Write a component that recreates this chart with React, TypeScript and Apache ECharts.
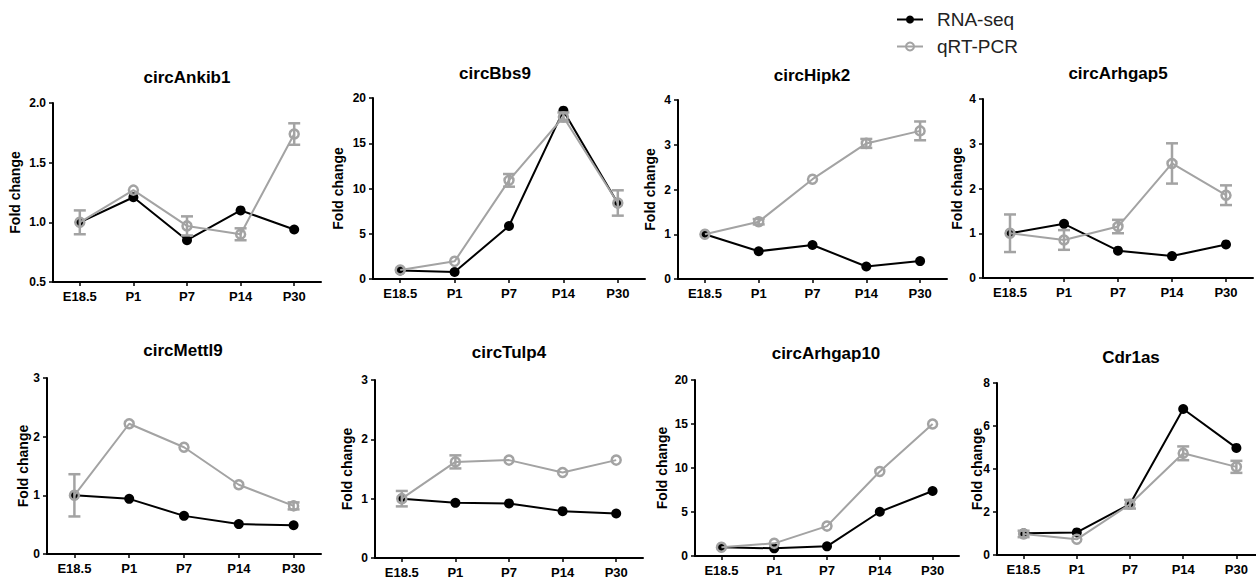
import React, { useEffect, useRef } from "react";
import * as echarts from "echarts";

const categories = ["E18.5", "P1", "P7", "P14", "P30"];
const panelTitles = ["circAnkib1", "circBbs9", "circHipk2", "circArhgap5", "circMettl9", "circTulp4", "circArhgap10", "Cdr1as"];
const seriesNames = ["RNA-seq", "qRT-PCR"];
const yAxisName = "Fold change";

const ankib1Rna = [1.0, 1.21, 0.85, 1.1, 0.94];
const ankib1Qpcr = [1.0, 1.27, 0.97, 0.9, 1.74];
const ankib1Err = [0.1, 0, 0.08, 0.05, 0.09];

const bbs9Rna = [0.95, 0.77, 5.86, 18.6, 8.36];
const bbs9Qpcr = [1.0, 1.95, 10.9, 17.9, 8.4];
const bbs9Err = [0, 0, 0.7, 0.5, 1.4];

const hipk2Rna = [1.0, 0.62, 0.76, 0.28, 0.4];
const hipk2Qpcr = [1.0, 1.28, 2.23, 3.03, 3.31];
const hipk2Err = [0, 0.06, 0, 0.1, 0.21];

const arhgap5Rna = [1.0, 1.21, 0.61, 0.49, 0.75];
const arhgap5Qpcr = [1.0, 0.85, 1.15, 2.56, 1.85];
const arhgap5Err = [0.42, 0.22, 0.15, 0.45, 0.22];

const mettl9Rna = [1.0, 0.94, 0.65, 0.51, 0.49];
const mettl9Qpcr = [1.0, 2.22, 1.82, 1.18, 0.82];
const mettl9Err = [0.36, 0, 0, 0, 0.06];

const tulp4Rna = [1.0, 0.93, 0.92, 0.79, 0.75];
const tulp4Qpcr = [1.0, 1.62, 1.65, 1.44, 1.65];
const tulp4Err = [0.13, 0.11, 0, 0, 0];

const arhgap10Rna = [0.99, 0.87, 1.1, 5.03, 7.39];
const arhgap10Qpcr = [1.0, 1.44, 3.4, 9.6, 15.0];
const arhgap10Err = [0, 0, 0, 0, 0];

const cdr1asRna = [1.01, 1.05, 2.37, 6.79, 4.98];
const cdr1asQpcr = [0.98, 0.73, 2.36, 4.73, 4.1];
const cdr1asErr = [0.15, 0, 0.2, 0.32, 0.28];

const yMins = [0.5, 0, 0, 0, 0, 0, 0, 0];
const yMaxs = [2, 20, 4, 4, 3, 3, 20, 8];
const yIntervals = [0.5, 5, 1, 1, 1, 1, 5, 2];
const yDecimals = [1, 0, 0, 0, 0, 0, 0, 0];

const rnaData = [ankib1Rna, bbs9Rna, hipk2Rna, arhgap5Rna, mettl9Rna, tulp4Rna, arhgap10Rna, cdr1asRna];
const qpcrData = [ankib1Qpcr, bbs9Qpcr, hipk2Qpcr, arhgap5Qpcr, mettl9Qpcr, tulp4Qpcr, arhgap10Qpcr, cdr1asQpcr];
const errData = [ankib1Err, bbs9Err, hipk2Err, arhgap5Err, mettl9Err, tulp4Err, arhgap10Err, cdr1asErr];

const layouts = [
  { left: 53, top: 103, width: 268, height: 179, titleX: 187, titleY: 77, nameX: 15 },
  { left: 373, top: 98, width: 272, height: 181, titleX: 495, titleY: 73, nameX: 338 },
  { left: 678, top: 100, width: 269, height: 179, titleX: 812, titleY: 75, nameX: 650 },
  { left: 983, top: 99, width: 270, height: 179, titleX: 1118, titleY: 73, nameX: 957 },
  { left: 47, top: 378, width: 274, height: 176, titleX: 183, titleY: 350, nameX: 23 },
  { left: 375, top: 380, width: 268, height: 178, titleX: 509, titleY: 352, nameX: 347 },
  { left: 695, top: 380, width: 264, height: 176, titleX: 826, titleY: 353, nameX: 662 },
  { left: 997, top: 383, width: 266, height: 172, titleX: 1131, titleY: 357, nameX: 977 },
];

const FONT = '"Liberation Sans", Arial, Helvetica, sans-serif';
const GRAY = "#a3a3a3";

export default function App() {
  const ref = useRef<HTMLDivElement>(null);

  useEffect(() => {
    if (!ref.current) return;
    const chart = echarts.init(ref.current, undefined, { renderer: "svg" });

    const grids: any[] = [];
    const xAxes: any[] = [];
    const yAxes: any[] = [];
    const series: any[] = [];
    const graphics: any[] = [];

    layouts.forEach((l, i) => {
      grids.push({ left: l.left, top: l.top, width: l.width, height: l.height, containLabel: false, outerBoundsMode: "none" });
      xAxes.push({
        type: "category",
        gridIndex: i,
        data: categories,
        boundaryGap: true,
        axisLine: { show: true, lineStyle: { color: "#000", width: 2 } },
        axisTick: { show: true, alignWithLabel: true, length: 4, lineStyle: { color: "#000", width: 1.5 } },
        axisLabel: { color: "#000", fontFamily: FONT, fontWeight: "bold", fontSize: 13, margin: 8, interval: 0 },
        splitLine: { show: false },
      });
      yAxes.push({
        type: "value",
        gridIndex: i,
        min: yMins[i],
        max: yMaxs[i],
        interval: yIntervals[i],
        axisLine: { show: true, lineStyle: { color: "#000", width: 2 } },
        axisTick: { show: true, length: 4, lineStyle: { color: "#000", width: 1.5 } },
        axisLabel: {
          color: "#000",
          fontFamily: FONT,
          fontWeight: "bold",
          fontSize: 12,
          margin: 7,
          formatter: (v: number) => v.toFixed(yDecimals[i]),
        },
        splitLine: { show: false },
      });
      series.push({
        name: seriesNames[0],
        type: "line",
        xAxisIndex: i,
        yAxisIndex: i,
        data: rnaData[i],
        symbol: "circle",
        symbolSize: 10,
        lineStyle: { color: "#000", width: 2 },
        itemStyle: { color: "#000" },
        z: 2,
      });
      series.push({
        name: seriesNames[1],
        type: "line",
        xAxisIndex: i,
        yAxisIndex: i,
        data: qpcrData[i],
        symbol: "circle",
        symbolSize: 9,
        lineStyle: { color: GRAY, width: 2 },
        itemStyle: { color: "rgba(255,255,255,0)", borderColor: GRAY, borderWidth: 2.5 },
        z: 3,
      });
      const errItems: number[][] = [];
      errData[i].forEach((e, k) => {
        if (e > 0) errItems.push([k, qpcrData[i][k] - e, qpcrData[i][k] + e]);
      });
      series.push({
        name: "err" + i,
        type: "custom",
        xAxisIndex: i,
        yAxisIndex: i,
        data: errItems,
        z: 4,
        silent: true,
        renderItem: (params: any, api: any) => {
          const x = api.value(0);
          const lo = api.coord([x, api.value(1)]);
          const hi = api.coord([x, api.value(2)]);
          const hw = 6;
          const st = { stroke: GRAY, lineWidth: 2.5 };
          return {
            type: "group",
            children: [
              { type: "line", shape: { x1: lo[0], y1: lo[1], x2: hi[0], y2: hi[1] }, style: st },
              { type: "line", shape: { x1: lo[0] - hw, y1: lo[1], x2: lo[0] + hw, y2: lo[1] }, style: st },
              { type: "line", shape: { x1: hi[0] - hw, y1: hi[1], x2: hi[0] + hw, y2: hi[1] }, style: st },
            ],
          };
        },
      });
      graphics.push({
        type: "text",
        x: l.titleX,
        y: l.titleY,
        style: {
          text: panelTitles[i],
          font: `bold 17px ${FONT}`,
          fill: "#000",
          align: "center",
          verticalAlign: "middle",
          textAlign: "center",
          textVerticalAlign: "middle",
        },
      });
      graphics.push({
        type: "text",
        x: l.nameX,
        y: l.top + l.height / 2,
        rotation: Math.PI / 2,
        style: {
          text: yAxisName,
          font: `bold 14px ${FONT}`,
          fill: "#000",
          align: "center",
          verticalAlign: "middle",
          textAlign: "center",
          textVerticalAlign: "middle",
        },
      });
    });

    chart.setOption({
      animation: false,
      backgroundColor: "#fff",
      legend: {
        data: seriesNames,
        orient: "vertical",
        left: 891,
        top: 5,
        itemWidth: 26,
        itemHeight: 10,
        itemGap: 8,
        textStyle: { fontFamily: FONT, fontSize: 19, color: "#222", padding: [0, 0, 0, 9] },
        selectedMode: false,
      },
      grid: grids,
      xAxis: xAxes,
      yAxis: yAxes,
      series,
      graphic: graphics,
    });

    return () => chart.dispose();
  }, []);

  return <div ref={ref} style={{ position: "fixed", left: 0, top: 0, width: 1256, height: 583, background: "#fff" }} />;
}
